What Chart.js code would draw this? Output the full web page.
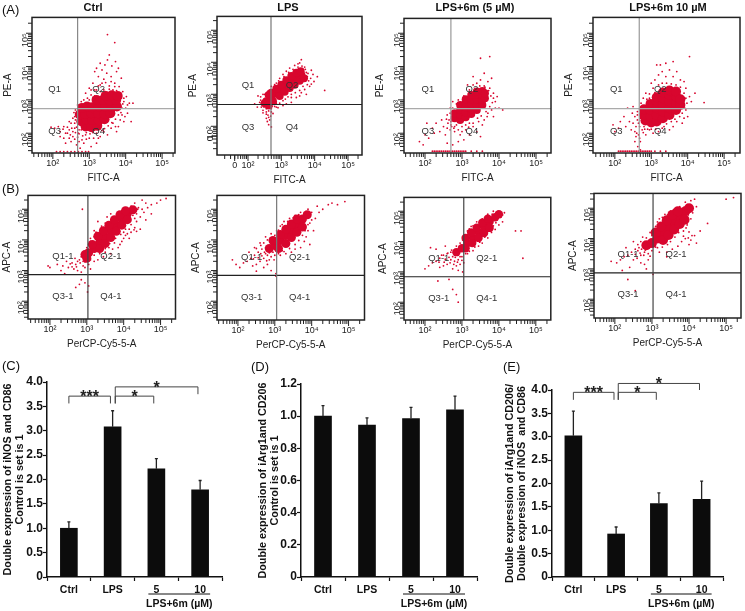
<!DOCTYPE html>
<html>
<head>
<meta charset="utf-8">
<script src="https://cdn.jsdelivr.net/npm/chart.js@4"></script>
<style>
  html, body { margin: 0; padding: 0; background: #fff; }
  #page { position: relative; width: 745px; height: 611px; overflow: hidden; font-family: "Liberation Sans", Arial, sans-serif; color: #111; }
  #page canvas { position: absolute; }
  .letter { position: absolute; font-size: 13px; }
  .head { position: absolute; font-size: 11px; font-weight: bold; transform: translateX(-50%); white-space: nowrap; }
</style>
</head>
<body>
<div id="page"></div>
<script>
// Flow panels: values are log10 of the intensity
const tickLabels = { 2: "10²", 3: "10³", 4: "10⁴", 5: "10⁵" };

// (A) FITC-A / PE-A
const ctrlACore = [[2.9,2.2],[3.06,2.18],[3.22,2.22],[2.78,2.36],[2.92,2.42],[3.08,2.4],[3.26,2.38],[3.42,2.42],[2.74,2.56],[2.88,2.58],[3.06,2.6],[3.24,2.6],[3.42,2.58],[3.58,2.6],[2.8,2.76],[2.94,2.8],[3.08,2.78],[3.26,2.8],[3.44,2.8],[3.62,2.78],[3.76,2.8],[3.2,3.0],[3.38,3.0],[3.56,2.98],[3.74,3.0],[3.45,3.12],[3.62,3.14],[3.78,3.12]];
const ctrlADots = [[3.0,3.35],[3.1,3.5],[3.2,3.3],[3.25,3.7],[3.3,3.45],[3.4,3.62],[3.35,3.9],[3.48,3.8],[3.55,3.42],[3.6,3.7],[3.62,4.02],[3.7,3.5],[3.75,3.85],[3.72,4.15],[3.82,3.4],[3.88,3.65],[3.92,3.25],[3.5,4.2],[3.43,4.05],[3.3,4.1],[3.15,3.85],[2.95,3.05],[2.9,3.2],[3.05,3.15],[3.5,4.96],[3.7,4.72],[3.55,4.35],[3.2,3.95],[3.8,3.95],[4.02,3.1],[4.1,2.9],[4.2,2.9],[4.0,2.75],[3.95,2.95],[4.05,2.6],[3.9,2.55],[3.95,2.35],[3.85,2.4],[3.8,2.2],[3.75,2.05],[4.15,2.35],[3.65,2.3],[3.6,2.15],[3.4,2.05],[3.5,1.95],[3.3,1.9],[3.2,2.0],[3.1,2.02],[3.0,1.85],[2.9,1.95],[2.8,1.8],[2.7,2.0],[2.6,2.15],[2.55,1.9],[2.45,2.1],[2.4,2.0],[2.3,1.85],[2.2,1.9],[2.05,2.15],[1.95,2.18],[2.35,1.7],[2.5,1.75],[2.65,1.65],[2.75,1.55],[2.85,1.7],[3.05,1.6],[3.2,1.7],[2.45,2.35],[2.55,2.45],[2.65,2.55],[2.7,2.3],[2.6,2.3],[2.75,2.7],[2.68,2.85],[2.62,2.7],[2.1,1.45],[2.2,1.45],[2.3,1.45],[2.4,1.45],[2.5,1.45],[2.6,1.45],[2.7,1.45],[2.8,1.45],[2.9,1.45],[2.98,1.45],[3.15,3.12],[3.3,3.25],[3.4,3.3],[3.45,3.25],[3.55,3.32],[3.65,3.3],[3.75,3.28],[3.85,3.2],[3.88,3.05],[3.92,2.88],[3.9,2.75],[3.87,2.62],[3.8,2.55],[3.72,2.42],[3.62,2.32],[3.52,2.22],[3.42,2.14],[3.35,2.08],[2.62,2.4],[2.6,2.5],[2.58,2.62],[2.65,2.18],[2.62,2.02],[2.72,1.98],[2.82,1.92],[2.92,2.02],[3.02,1.98],[2.5,2.3],[2.52,2.15],[2.55,2.05],[2.48,1.95],[2.4,2.18],[2.35,2.0],[2.28,2.12],[2.72,2.1],[2.68,1.88],[2.78,2.1],[2.88,2.1],[2.98,2.1],[3.08,2.12],[3.25,3.42],[3.35,3.5],[3.45,3.52],[3.6,3.55],[3.7,3.4],[3.15,3.3],[3.05,3.3],[2.85,3.0],[2.78,2.95],[3.0,3.0],[3.1,3.05],[2.6,1.82],[2.72,1.75],[2.92,1.82],[3.12,1.85],[3.25,1.85],[2.45,1.85],[2.2,2.05],[2.3,2.2],[2.15,2.2],[3.95,3.05],[4.05,2.85],[3.98,2.5],[3.72,2.2]];
const lpsACore = [[2.55,2.78],[2.7,2.9],[2.85,3.02],[3.0,3.15],[3.15,3.27],[3.3,3.4],[3.45,3.5],[3.6,3.6],[2.7,3.05],[2.85,3.17],[3.0,3.3],[3.15,3.44],[3.3,3.57],[3.45,3.67],[3.58,3.72],[2.75,2.78],[2.95,2.95],[3.1,3.08],[3.25,3.2],[3.4,3.3],[3.55,3.42],[3.68,3.5],[2.5,2.72],[2.62,2.98],[2.62,2.65]];
const lpsADots = [[2.3,2.95],[2.35,2.75],[2.4,2.6],[2.45,2.5],[2.55,2.45],[2.6,2.35],[2.65,2.2],[2.55,2.25],[2.7,2.55],[2.75,2.4],[2.62,2.05],[2.7,1.98],[2.2,2.7],[2.28,2.6],[2.5,3.0],[2.6,3.1],[2.7,3.25],[2.85,3.35],[2.95,3.5],[3.05,3.62],[3.15,3.72],[3.25,3.82],[3.4,3.9],[3.5,3.95],[3.62,3.88],[3.72,3.78],[3.8,3.65],[3.88,3.5],[3.98,3.4],[4.08,3.55],[3.95,3.62],[3.85,3.25],[3.7,3.15],[3.75,3.0],[3.55,2.95],[3.45,2.9],[3.3,2.75],[3.15,2.7],[3.05,2.65],[2.9,2.58],[2.85,2.72],[2.8,2.62],[3.6,4.08],[3.55,3.98],[4.3,3.12],[3.9,3.75],[3.12,2.85],[3.3,2.9],[3.6,3.05],[2.45,2.42],[2.38,2.82],[3.78,3.55],[3.82,3.42],[3.7,3.85],[3.75,3.68],[3.62,3.8],[3.5,3.85],[3.35,3.78],[3.22,3.68],[3.08,3.55],[2.92,3.42],[2.8,3.3],[3.78,3.3],[3.65,3.25],[3.55,3.12],[3.42,3.05],[3.3,3.0],[3.2,2.92],[3.05,2.8],[2.95,2.72],[2.85,2.6],[2.7,2.45],[2.62,2.48],[2.55,2.55],[2.48,2.6],[2.4,2.72],[2.38,2.92],[2.45,3.0],[2.55,2.38],[2.68,2.32],[2.62,2.28],[2.58,2.15],[2.72,2.62],[3.9,3.32]];
const fiveACore = [[2.8,2.45],[2.8,2.6],[2.95,2.4],[2.95,2.55],[2.95,2.7],[2.95,2.85],[3.1,2.48],[3.1,2.63],[3.1,2.78],[3.1,2.93],[3.1,3.02],[3.25,2.58],[3.25,2.72],[3.25,2.87],[3.25,3.02],[3.25,3.15],[3.4,2.7],[3.4,2.85],[3.4,3.0],[3.4,3.15],[3.4,3.25],[3.55,2.85],[3.55,3.0],[3.55,3.15],[3.55,3.27],[3.62,3.05],[3.62,3.2]];
const fiveADots = [[3.3,3.45],[3.4,3.5],[3.5,3.6],[3.6,3.42],[3.7,3.55],[3.2,3.3],[3.15,3.45],[3.75,3.35],[3.85,3.2],[3.95,3.1],[3.9,2.95],[4.0,2.75],[4.1,2.7],[3.8,2.7],[3.7,2.6],[3.85,2.5],[3.6,2.4],[3.55,2.25],[3.45,2.35],[3.3,2.2],[3.2,2.3],[3.1,2.1],[3.0,2.2],[2.95,1.95],[2.85,2.25],[2.8,2.05],[2.7,2.25],[2.65,2.4],[2.6,2.15],[2.55,1.95],[2.5,2.2],[2.45,2.4],[2.4,2.05],[2.3,2.3],[2.25,2.0],[2.2,2.15],[2.1,1.85],[2.05,2.3],[2.0,1.95],[1.85,1.75],[1.95,1.65],[2.6,2.55],[2.72,2.5],[2.68,2.75],[2.75,2.95],[3.05,1.8],[3.2,1.95],[3.4,2.05],[3.5,1.9],[2.75,1.65],[2.9,1.75],[2.6,1.7],[3.5,4.25],[3.75,4.3],[3.6,3.8],[3.8,3.65],[3.3,3.7],[2.2,1.46],[2.3,1.46],[2.4,1.46],[2.5,1.46],[2.6,1.46],[2.7,1.46],[2.8,1.46],[2.9,1.46],[3.0,1.46],[3.1,1.46],[3.25,1.46],[3.4,1.46],[3.55,1.46],[2.25,1.46],[2.35,1.46],[2.45,1.46],[2.55,1.46],[2.65,1.46],[2.75,1.46],[2.85,1.46],[2.95,1.46],[3.05,1.46],[2.7,2.35],[2.62,2.3],[2.58,2.42],[2.72,2.2],[2.8,2.2],[2.68,2.1],[2.78,2.15],[2.9,2.1],[3.0,2.05],[3.1,2.25],[3.18,2.18],[3.3,2.3],[3.42,2.45],[3.52,2.52],[3.65,2.65],[3.75,2.8],[3.82,2.92],[3.78,3.12],[3.72,3.28],[3.62,3.38],[3.48,3.42],[3.35,3.32],[3.22,3.22],[3.05,3.12],[2.9,3.0],[2.85,2.88],[2.75,2.75],[2.68,2.6],[3.85,3.05],[3.68,2.5],[3.9,2.75]];
const tenACore = [[2.84,2.38],[2.8,2.55],[2.8,2.72],[3.0,2.32],[2.98,2.5],[2.98,2.7],[2.98,2.88],[3.15,2.35],[3.15,2.55],[3.15,2.75],[3.15,2.95],[3.15,3.08],[3.32,2.45],[3.32,2.65],[3.32,2.85],[3.32,3.05],[3.32,3.22],[3.5,2.55],[3.5,2.75],[3.5,2.95],[3.5,3.15],[3.5,3.28],[3.68,2.7],[3.68,2.9],[3.68,3.1],[3.68,3.25],[3.8,2.85],[3.8,3.02]];
const tenADots = [[3.0,3.5],[3.1,3.6],[3.2,3.75],[3.3,3.85],[3.4,3.7],[3.5,3.9],[3.6,3.7],[3.7,3.85],[3.8,3.6],[3.25,4.05],[3.4,4.1],[3.6,4.15],[3.15,4.05],[4.05,4.3],[3.9,3.55],[3.95,3.35],[4.05,3.1],[4.1,2.95],[4.2,3.2],[4.45,2.92],[3.95,2.7],[4.0,2.5],[3.9,2.45],[3.85,2.3],[3.7,2.35],[3.6,2.2],[3.5,2.1],[3.35,2.2],[3.2,2.05],[3.05,2.0],[2.95,2.1],[2.85,1.95],[2.75,2.1],[2.7,1.75],[2.65,2.3],[2.6,2.0],[2.55,2.5],[2.5,2.3],[2.48,2.6],[2.45,2.1],[2.4,2.35],[2.3,2.2],[2.25,2.5],[2.15,2.35],[2.1,2.15],[2.0,2.05],[1.95,2.25],[2.35,2.75],[2.5,2.8],[2.62,2.65],[2.7,2.45],[2.72,2.9],[2.78,3.05],[2.85,3.2],[2.95,3.05],[2.68,1.85],[2.63,1.6],[2.7,1.5],[2.55,1.75],[2.1,1.46],[2.2,1.46],[2.3,1.46],[2.4,1.46],[2.5,1.46],[2.6,1.46],[2.7,1.46],[2.8,1.46],[2.9,1.46],[3.0,1.46],[3.1,1.46],[3.25,1.46],[3.4,1.46],[2.8,2.2],[2.9,2.3],[2.7,2.6],[2.15,1.46],[2.25,1.46],[2.35,1.46],[2.45,1.46],[2.55,1.46],[2.65,1.46],[2.75,1.46],[2.85,1.46],[2.95,1.46],[3.05,3.35],[3.2,3.45],[3.3,3.5],[3.42,3.5],[3.55,3.48],[3.68,3.45],[3.8,3.38],[3.9,3.2],[3.95,3.05],[3.98,2.9],[3.92,2.75],[3.85,2.6],[3.78,2.5],[3.65,2.42],[3.55,2.35],[3.42,2.28],[3.3,2.15],[3.12,2.12],[3.0,2.12],[2.9,2.12],[2.82,2.12],[2.68,2.2],[2.62,2.4],[2.58,2.2],[2.55,2.05],[2.62,2.55],[2.58,1.9],[2.65,1.95],[2.78,2.02],[3.1,3.22],[2.95,3.18],[2.88,3.02]];

// (B) PerCP-Cy5-5-A / APC-A
const ctrlBCore = [[3.2,3.72],[3.35,3.92],[3.5,4.1],[3.65,4.3],[3.8,4.48],[3.95,4.68],[4.1,4.85],[4.25,4.98],[3.3,4.12],[3.45,4.3],[3.6,4.48],[3.75,4.66],[3.9,4.82],[4.05,4.95],[3.35,3.72],[3.5,3.88],[3.65,4.08],[3.8,4.28],[3.95,4.48],[4.1,4.66],[3.05,3.58],[3.15,3.85],[3.0,3.4],[2.95,3.52]];
const ctrlBDots = [[2.98,3.57],[2.8,3.35],[2.9,3.3],[2.7,3.2],[2.6,3.25],[2.5,3.1],[2.65,3.05],[2.75,3.0],[2.85,2.95],[2.95,3.1],[3.0,3.4],[3.05,3.2],[3.1,3.05],[3.2,3.3],[3.3,3.35],[3.1,3.7],[3.0,3.75],[2.9,3.6],[2.45,3.3],[2.35,3.15],[2.2,3.2],[2.0,3.1],[2.3,3.0],[2.4,2.9],[2.85,2.7],[2.95,2.6],[3.05,2.5],[2.8,2.55],[2.7,2.45],[3.02,2.3],[1.95,3.15],[3.5,3.6],[3.6,3.75],[3.7,3.7],[3.85,3.75],[3.75,3.9],[4.0,4.05],[4.1,4.2],[4.2,4.25],[4.35,4.28],[4.45,4.35],[4.3,4.4],[4.15,4.35],[4.0,4.25],[4.35,4.6],[4.45,4.75],[4.55,4.9],[4.65,5.05],[4.75,5.15],[4.9,5.2],[4.6,5.2],[4.5,5.0],[4.4,5.05],[4.3,5.2],[4.2,5.1],[4.5,5.3],[5.0,5.3],[5.15,5.35],[4.6,4.65],[4.75,4.85],[3.55,4.75],[3.65,4.85],[3.85,4.9],[4.05,5.0],[3.3,4.6],[3.2,4.3],[3.1,4.05],[2.88,5.0],[3.9,3.85],[3.65,3.55],[3.45,3.45],[2.85,3.45],[2.82,3.25],[2.75,3.3],[2.68,3.4],[2.9,3.15],[2.72,3.12],[2.6,3.12],[2.55,3.22],[2.95,3.28],[3.1,3.35],[3.2,3.5],[3.35,3.55],[3.5,3.72],[3.62,3.88],[3.78,4.05],[3.92,4.18],[4.05,4.35],[4.2,4.5],[4.3,4.7],[4.35,4.85],[4.25,4.8],[3.65,4.65],[3.5,4.55],[3.4,4.45],[3.25,4.25],[3.2,4.1],[3.1,3.95],[3.95,4.95],[4.38,5.0],[4.15,4.05],[4.05,4.15],[4.28,4.33],[3.95,3.95]];
const lpsBCore = [[2.85,3.72],[3.0,3.82],[3.15,3.98],[3.3,4.15],[3.45,4.32],[3.6,4.5],[3.75,4.68],[3.88,4.82],[2.95,3.98],[3.15,4.18],[3.3,4.35],[3.45,4.52],[3.6,4.68],[3.1,3.72],[3.3,3.88],[3.45,4.08],[3.6,4.25],[3.75,4.42]];
const lpsBDots = [[2.75,3.75],[2.65,3.7],[2.55,3.6],[2.45,3.5],[2.35,3.4],[2.25,3.3],[2.15,3.25],[2.05,3.1],[1.95,3.2],[1.85,3.35],[2.6,3.3],[2.7,3.4],[2.8,3.5],[2.9,3.45],[3.0,3.5],[3.1,3.55],[2.5,3.2],[2.4,3.15],[2.7,3.1],[2.8,3.2],[2.9,3.0],[2.3,3.6],[2.45,3.75],[2.6,3.9],[2.75,4.1],[2.9,4.2],[3.05,4.3],[3.15,4.45],[3.25,4.6],[3.4,4.7],[3.55,4.8],[3.7,4.9],[3.9,5.0],[4.0,4.9],[4.15,5.1],[4.3,5.0],[4.45,5.15],[4.55,5.2],[4.7,5.15],[4.9,5.25],[4.1,4.7],[3.95,4.55],[3.9,4.3],[3.85,4.1],[3.8,3.95],[3.7,3.75],[3.55,3.7],[3.45,3.6],[3.3,3.55],[3.2,3.65],[3.95,3.85],[4.05,4.3],[3.03,2.82],[3.03,2.9],[2.5,2.98],[4.2,4.9],[2.72,3.6],[2.62,3.55],[2.55,3.42],[2.65,3.48],[2.75,3.55],[2.85,3.58],[2.95,3.6],[2.42,3.38],[2.5,3.72],[2.62,3.82],[2.7,3.9],[2.8,4.0],[3.0,4.15],[3.1,4.32],[3.2,4.5],[3.35,4.6],[3.5,4.72],[3.65,4.82],[3.8,4.88],[3.95,4.8],[4.0,4.65],[3.9,4.5],[3.82,4.3],[3.75,4.15],[3.65,3.98],[3.55,3.85],[3.4,3.72],[3.25,3.62],[3.15,3.5],[2.98,3.35],[2.85,3.35],[2.78,3.32]];
const fiveBCore = [[2.85,3.65],[3.0,3.78],[3.15,3.95],[3.3,4.12],[3.45,4.3],[3.6,4.48],[3.75,4.65],[3.9,4.8],[4.0,4.9],[3.1,4.12],[3.25,4.3],[3.4,4.46],[3.55,4.62],[3.7,4.75],[3.1,3.78],[3.28,3.95],[3.45,4.12],[3.6,4.28],[3.75,4.45]];
const fiveBDots = [[2.7,3.65],[2.6,3.6],[2.5,3.55],[2.4,3.45],[2.3,3.35],[2.2,3.3],[2.1,3.2],[2.0,3.1],[2.7,3.4],[2.8,3.35],[2.9,3.4],[3.0,3.5],[2.85,3.2],[2.9,3.05],[2.75,3.1],[2.6,3.25],[2.5,3.2],[2.4,3.15],[2.3,3.75],[2.15,3.8],[2.55,3.85],[3.05,4.15],[3.15,4.35],[3.25,4.5],[3.4,4.65],[3.55,4.75],[3.7,4.9],[3.85,5.0],[4.0,4.98],[4.1,4.88],[4.1,4.65],[4.0,4.55],[3.9,4.4],[3.8,4.3],[3.7,4.12],[3.55,3.95],[3.45,3.85],[3.3,3.7],[3.15,3.6],[4.45,4.35],[4.6,4.35],[4.65,3.45],[4.05,4.8],[2.65,2.75],[2.35,2.7],[2.85,2.25],[2.9,2.0],[2.75,2.42],[3.02,3.0],[4.15,4.95],[2.75,3.5],[2.65,3.48],[2.55,3.42],[2.62,3.62],[2.72,3.72],[2.82,3.48],[2.88,3.32],[2.95,3.25],[3.05,3.3],[3.0,3.38],[2.45,3.55],[2.52,3.32],[2.38,3.32],[2.68,3.3],[2.78,3.25],[2.8,3.62],[2.85,3.85],[2.95,3.95],[3.02,4.05],[3.15,4.22],[3.2,4.42],[3.3,4.52],[3.48,4.62],[3.62,4.72],[3.82,4.9],[3.92,4.62],[3.85,4.52],[3.78,4.38],[3.62,4.15],[3.48,3.98],[3.35,3.82],[3.2,3.68],[3.1,3.6],[2.95,3.5]];
const tenBCore = [[2.85,3.78],[3.0,3.85],[3.15,4.0],[3.3,4.2],[3.45,4.4],[3.6,4.58],[3.75,4.75],[3.9,4.9],[4.0,5.0],[3.1,4.2],[3.25,4.4],[3.4,4.6],[3.55,4.78],[3.7,4.9],[3.3,3.95],[3.45,4.12],[3.6,4.3],[3.75,4.48],[3.88,4.62]];
const tenBDots = [[2.75,3.8],[2.65,3.7],[2.55,3.65],[2.45,3.55],[2.35,3.45],[2.25,3.4],[2.15,3.3],[2.05,3.2],[1.9,3.25],[2.7,3.45],[2.8,3.55],[2.9,3.5],[3.0,3.6],[2.6,3.35],[2.7,3.2],[2.8,3.15],[2.9,3.3],[2.5,3.3],[2.4,3.05],[2.85,3.0],[2.3,3.7],[2.5,3.9],[2.75,4.05],[2.95,4.2],[3.1,4.4],[3.2,4.65],[3.35,4.8],[3.5,4.9],[3.7,5.0],[3.9,5.2],[4.05,5.25],[4.15,5.3],[4.0,5.1],[4.2,5.05],[4.1,4.85],[4.05,4.65],[3.95,4.45],[3.85,4.25],[3.9,4.0],[4.05,3.95],[4.15,4.1],[4.3,4.25],[4.2,3.85],[4.0,3.8],[3.8,3.9],[3.7,3.75],[3.55,3.65],[3.4,3.55],[3.2,3.55],[3.15,3.7],[5.2,5.35],[5.0,5.3],[4.5,4.5],[3.03,2.82],[2.35,2.65],[2.55,2.28],[2.2,2.95],[3.4,3.4],[2.62,3.6],[2.72,3.65],[2.82,3.62],[2.55,3.48],[2.68,3.52],[2.78,3.45],[2.95,3.42],[2.62,3.8],[2.7,3.9],[2.85,4.02],[3.0,4.1],[3.05,4.3],[3.15,4.55],[3.28,4.7],[3.42,4.78],[3.58,4.95],[3.75,5.05],[3.95,5.12],[4.08,5.02],[3.98,4.78],[3.95,4.6],[3.92,4.35],[3.82,4.4],[3.72,4.2],[3.62,4.05],[3.5,3.9],[3.42,3.8],[3.28,3.72],[3.1,3.72],[4.08,4.1],[3.98,4.02],[4.0,4.22],[3.85,4.08]];

// Bars (C), (D), (E)
const barCategories = ["Ctrl", "LPS", "5", "10"];
const iNosValues = [1.0, 3.08, 2.22, 1.79];
const iNosTops = [1.13, 3.41, 2.43, 1.98];
const arg1Values = [1.0, 0.945, 0.985, 1.04];
const arg1Tops = [1.065, 0.99, 1.055, 1.125];
const ratioValues = [3.02, 0.92, 1.57, 1.66];
const ratioTops = [3.55, 1.07, 1.80, 2.05];
const iNosBrackets = [
  { from: 0, to: 0.95, level: 3.71, dropL: 0.15, dropR: 0.15, label: "***" },
  { from: 1.06, to: 1.94, level: 3.71, dropL: 0.15, dropR: 0.15, label: "*" },
  { from: 1.06, to: 2.95, level: 3.9, dropL: 0.34, dropR: 0.15, label: "*" }
];
const ratioBrackets = [
  { from: 0, to: 0.95, level: 3.95, dropL: 0.16, dropR: 0.16, label: "***" },
  { from: 1.05, to: 1.94, level: 3.95, dropL: 0.16, dropR: 0.16, label: "*" },
  { from: 1.05, to: 2.95, level: 4.14, dropL: 0.35, dropR: 0.14, label: "*" }
];

const RED = "#d8062e";
const page = document.getElementById("page");

function addCanvas(left, top, width, height) {
  const c = document.createElement("canvas");
  c.width = width;
  c.height = height;
  c.style.left = left + "px";
  c.style.top = top + "px";
  c.style.width = width + "px";
  c.style.height = height + "px";
  page.appendChild(c);
  return c;
}

function addText(cls, left, top, text) {
  const d = document.createElement("div");
  d.className = cls;
  d.style.left = left + "px";
  d.style.top = top + "px";
  d.textContent = text;
  page.appendChild(d);
}

// tick list for a log axis, with a 0 mark for the biexponential plot
function logTicks(min, max, zero) {
  const out = [];
  for (let e = 0; e <= 5; e++) {
    for (let m = 1; m <= 9; m++) {
      const v = m * Math.pow(10, e);
      if (v >= min && v <= max) out.push({ value: v, major: m === 1 });
    }
  }
  if (zero) out.push({ value: Math.pow(10, zero), major: true, zero: true });
  return out.sort((a, b) => a.value - b.value);
}

// frame, minor ticks, quadrant names
const flowPlugin = {
  id: "flowPlugin",
  afterDraw(chart, args, opts) {
    const { ctx, chartArea: a, scales } = chart;
    ctx.save();
    ctx.strokeStyle = "#222";
    ctx.lineWidth = 1;
    scales.x.ticks.forEach(t => {
      const px = scales.x.getPixelForValue(t.value);
      ctx.beginPath();
      ctx.moveTo(px, a.bottom);
      ctx.lineTo(px, a.bottom + (t.major ? 6 : 4));
      ctx.stroke();
    });
    scales.y.ticks.forEach(t => {
      const py = scales.y.getPixelForValue(t.value);
      ctx.beginPath();
      ctx.moveTo(a.left, py);
      ctx.lineTo(a.left - (t.major ? 6 : 4), py);
      ctx.stroke();
    });
    ctx.lineWidth = 1.5;
    ctx.strokeRect(a.left, a.top, a.right - a.left, a.bottom - a.top);
    const gx = scales.x.getPixelForValue(Math.pow(10, opts.gate[0]));
    const gy = scales.y.getPixelForValue(Math.pow(10, opts.gate[1]));
    ctx.fillStyle = "#333";
    ctx.font = '9.5px "Liberation Sans"';
    ctx.textAlign = "center";
    ctx.textBaseline = "middle";
    opts.names.forEach((n, i) => {
      const dx = i % 2 === 0 ? opts.dxL : opts.dxR;
      const dy = i < 2 ? opts.dyT : opts.dyB;
      ctx.fillText(n, gx + dx, gy + dy);
    });
    ctx.restore();
  }
};

function flowPanel(p) {
  const padL = p.padL, padB = 32, padT = 4, padR = 4;
  const w = p.right - p.left + padL + padR;
  const h = p.bottom - p.top + padT + padB;
  const canvas = addCanvas(p.left - padL, p.top - padT, w, h);
  const xDec = (p.xE5 - p.xE2) / 3;
  const yDec = (p.yE2 - p.yE5) / 3;
  const xMin = Math.pow(10, 2 - (p.xE2 - p.left) / xDec);
  const xMax = Math.pow(10, 5 + (p.right - p.xE5) / xDec);
  const yMin = Math.pow(10, 2 - (p.bottom - p.yE2) / yDec);
  const yMax = Math.pow(10, 5 + (p.yE5 - p.top) / yDec);
  const toPoint = d => ({ x: Math.pow(10, d[0]), y: Math.pow(10, d[1]) });
  const tickText = (value, i, ticks) => {
    const t = ticks[i];
    if (t.zero) return "0";
    return t.major ? tickLabels[Math.round(Math.log10(value))] : "";
  };
  const gx = Math.pow(10, p.gate[0]);
  const gy = Math.pow(10, p.gate[1]);
  new Chart(canvas, {
    type: "scatter",
    data: {
      datasets: [
        { data: [{ x: gx, y: yMin }, { x: gx, y: yMax }], showLine: true, borderColor: p.gateXColor, borderWidth: 1.2, pointRadius: 0 },
        { data: [{ x: xMin, y: gy }, { x: xMax, y: gy }], showLine: true, borderColor: p.gateYColor, borderWidth: 1.2, pointRadius: 0 },
        { data: p.core.map(toPoint), pointRadius: p.coreR, backgroundColor: RED, borderWidth: 0 },
        { data: p.dots.map(toPoint), pointRadius: 0.9, backgroundColor: RED, borderWidth: 0 }
      ]
    },
    options: {
      responsive: false,
      animation: false,
      events: [],
      layout: { padding: { top: padT, right: padR, left: 0, bottom: 0 } },
      plugins: {
        legend: { display: false },
        tooltip: { enabled: false },
        flowPlugin: { gate: p.gate, names: p.names, dxL: p.dxL, dxR: p.dxR, dyT: p.dyT, dyB: p.dyB }
      },
      scales: {
        x: {
          type: "logarithmic", min: xMin, max: xMax, bounds: "data",
          afterBuildTicks: s => { s.ticks = logTicks(xMin, xMax, p.xZero); },
          afterFit: s => { s.height = padB; },
          grid: { display: false, drawTicks: true, tickLength: 5 },
          border: { display: false },
          ticks: { autoSkip: false, maxRotation: 0, padding: 0, color: "#222", font: { size: 9 }, callback: tickText },
          title: { display: true, text: p.xTitle, color: "#222", font: { size: 10 }, padding: { top: 0, bottom: 1 } }
        },
        y: {
          type: "logarithmic", min: yMin, max: yMax, bounds: "data",
          afterBuildTicks: s => { s.ticks = logTicks(yMin, yMax, p.yZero); },
          afterFit: s => { s.width = padL; },
          grid: { display: false, drawTicks: true, tickLength: 6 },
          border: { display: false },
          ticks: { autoSkip: false, minRotation: 90, maxRotation: 90, padding: 0, color: "#222", font: { size: 9 }, callback: tickText },
          title: { display: true, text: p.yTitle, color: "#222", font: { size: 10 }, padding: { top: 0, bottom: 0 } }
        }
      }
    },
    plugins: [flowPlugin]
  });
}

const namesA = ["Q1", "Q2", "Q3", "Q4"];
const namesB = ["Q1-1", "Q2-1", "Q3-1", "Q4-1"];
const gapA = { padL: 30, dxL: -23, dxR: 21, dyT: -19, dyB: 23, names: namesA, xTitle: "FITC-A", yTitle: "PE-A" };
const gapB = { padL: 27, dxL: -25, dxR: 23, dyT: -18, dyB: 22, names: namesB, xTitle: "PerCP-Cy5-5-A", yTitle: "APC-A" };

flowPanel({ ...gapA, left: 32, right: 176, top: 16, bottom: 153, xE2: 53, xE5: 163, yE2: 133, yE5: 32, gate: [2.68, 2.74], gateXColor: "#888", gateYColor: "#aaa", core: ctrlACore, dots: ctrlADots, coreR: 5 });
flowPanel({ ...gapA, left: 217, right: 362, top: 15, bottom: 155, xE2: 248, xE5: 348, yE2: 126, yE5: 29, gate: [2.69, 2.68], gateXColor: "#777", gateYColor: "#222", core: lpsACore, dots: lpsADots, coreR: 4, xZero: 1.6, yZero: 1.69 });
flowPanel({ ...gapA, left: 404, right: 551, top: 17, bottom: 153, xE2: 425, xE5: 536, yE2: 133, yE5: 32, gate: [2.7, 2.74], gateXColor: "#999", gateYColor: "#aaa", core: fiveACore, dots: fiveADots, coreR: 4 });
flowPanel({ ...gapA, left: 593, right: 741, top: 16, bottom: 153, xE2: 615, xE5: 725, yE2: 133, yE5: 32, gate: [2.67, 2.74], gateXColor: "#999", gateYColor: "#aaa", core: tenACore, dots: tenADots, coreR: 5 });
flowPanel({ ...gapB, left: 28, right: 176, top: 194, bottom: 319, xE2: 50, xE5: 161, yE2: 301, yE5: 208, gate: [3.03, 2.87], gateXColor: "#444", gateYColor: "#222", core: ctrlBCore, dots: ctrlBDots, coreR: 4.5 });
flowPanel({ ...gapB, left: 217, right: 365, top: 194, bottom: 320, xE2: 238, xE5: 349, yE2: 301, yE5: 208, gate: [3.05, 2.84], gateXColor: "#777", gateYColor: "#222", core: lpsBCore, dots: lpsBDots, coreR: 4.5 });
flowPanel({ ...gapB, left: 404, right: 551, top: 196, bottom: 320, xE2: 425, xE5: 536, yE2: 302, yE5: 210, gate: [3.05, 2.84], gateXColor: "#444", gateYColor: "#222", core: fiveBCore, dots: fiveBDots, coreR: 4.2 });
flowPanel({ ...gapB, left: 594, right: 742, top: 192, bottom: 318, xE2: 615, xE5: 727, yE2: 299, yE5: 207, gate: [3.03, 2.87], gateXColor: "#444", gateYColor: "#222", core: tenBCore, dots: tenBDots, coreR: 5 });

// error caps, brackets and the group label under the bars
const barPlugin = {
  id: "barPlugin",
  afterDatasetsDraw(chart, args, opts) {
    const { ctx, chartArea: a, scales: { x, y } } = chart;
    const catPx = v => x.getPixelForValue(0) + v * (x.getPixelForValue(1) - x.getPixelForValue(0));
    ctx.save();
    ctx.strokeStyle = "#222";
    ctx.lineWidth = 1.3;
    opts.tops.forEach((top, i) => {
      const px = catPx(i);
      ctx.beginPath();
      ctx.moveTo(px, y.getPixelForValue(opts.values[i]));
      ctx.lineTo(px, y.getPixelForValue(top));
      ctx.moveTo(px - 1.5, y.getPixelForValue(top));
      ctx.lineTo(px + 1.5, y.getPixelForValue(top));
      ctx.stroke();
    });
    ctx.strokeStyle = "#444";
    ctx.lineWidth = 1;
    ctx.fillStyle = "#222";
    ctx.textAlign = "center";
    ctx.font = 'bold 16px "Liberation Sans"';
    ctx.textBaseline = "alphabetic";
    (opts.brackets || []).forEach(b => {
      const l = catPx(b.from), r = catPx(b.to), t = y.getPixelForValue(b.level);
      ctx.beginPath();
      ctx.moveTo(l, y.getPixelForValue(b.level - b.dropL));
      ctx.lineTo(l, t);
      ctx.lineTo(r, t);
      ctx.lineTo(r, y.getPixelForValue(b.level - b.dropR));
      ctx.stroke();
      ctx.fillText(b.label, (l + r) / 2, t + 6);
    });
    ctx.strokeStyle = "#111";
    ctx.beginPath();
    ctx.moveTo(catPx(2) - 8, a.bottom + 17);
    ctx.lineTo(catPx(3) + 10, a.bottom + 17);
    ctx.stroke();
    ctx.fillStyle = "#111";
    ctx.font = 'bold 10.5px "Liberation Sans"';
    ctx.textBaseline = "middle";
    ctx.fillText("LPS+6m (µM)", catPx(2.5) + 1, a.bottom + 27);
    ctx.restore();
  }
};

function barPanel(p) {
  const top = 360, bottom = 611;
  const canvas = addCanvas(p.canvasLeft, top, p.right - p.canvasLeft + 6, bottom - top);
  new Chart(canvas, {
    type: "bar",
    data: {
      labels: barCategories,
      datasets: [{ data: p.values, backgroundColor: "#0c0c0c", barThickness: 17 }]
    },
    options: {
      responsive: false,
      animation: false,
      events: [],
      layout: { padding: { top: p.axisTop - top, right: 6, left: 0, bottom: 0 } },
      plugins: {
        legend: { display: false },
        tooltip: { enabled: false },
        barPlugin: { tops: p.tops, values: p.values, brackets: p.brackets }
      },
      scales: {
        x: {
          afterFit: s => { s.height = bottom - p.axisBottom; },
          grid: { offset: true, drawOnChartArea: false, tickLength: 4, color: "#111", tickWidth: 1.2 },
          border: { color: "#111", width: 1.5 },
          ticks: { color: "#111", padding: 3, font: { size: 10.5, weight: "bold" } }
        },
        y: {
          min: 0, max: p.max,
          afterFit: s => { s.width = p.axisLeft - p.canvasLeft; },
          grid: { drawOnChartArea: false, tickLength: 4, color: "#111", tickWidth: 1.2 },
          border: { color: "#111", width: 1.5 },
          ticks: {
            stepSize: p.step, color: "#111", padding: 0,
            font: { size: 12, weight: "bold" },
            callback: v => v === 0 ? "0" : v.toFixed(1)
          },
          title: {
            display: true, text: p.title, color: "#111",
            font: { size: 10.8, weight: "bold", lineHeight: 1.1 },
            padding: { top: 0, bottom: 0 }
          }
        }
      }
    },
    plugins: [barPlugin]
  });
}

barPanel({ canvasLeft: 2, axisLeft: 47, right: 222, axisTop: 382, axisBottom: 577, max: 4, step: 0.5, values: iNosValues, tops: iNosTops, brackets: iNosBrackets, title: ["Double expression of iNOS and CD86", "Control is set is 1"] });
barPanel({ canvasLeft: 257, axisLeft: 301, right: 477, axisTop: 384, axisBottom: 577, max: 1.2, step: 0.2, values: arg1Values, tops: arg1Tops, title: ["Double expression of iArg1and CD206", "Control is set is 1"] });
barPanel({ canvasLeft: 504, axisLeft: 552, right: 723, axisTop: 390, axisBottom: 577, max: 4, step: 0.5, values: ratioValues, tops: ratioTops, brackets: ratioBrackets, title: ["Double expression of iArg1and CD206/", "Double expression of iNOS  and CD86"] });

addText("letter", 2, 2, "(A)");
addText("letter", 2, 181, "(B)");
addText("letter", 2, 358, "(C)");
addText("letter", 251, 359, "(D)");
addText("letter", 503, 359, "(E)");
addText("head", 93, 1, "Ctrl");
addText("head", 288, 1, "LPS");
addText("head", 475, 1, "LPS+6m (5 µM)");
addText("head", 668, 1, "LPS+6m 10 µM");
</script>
</body>
</html>
